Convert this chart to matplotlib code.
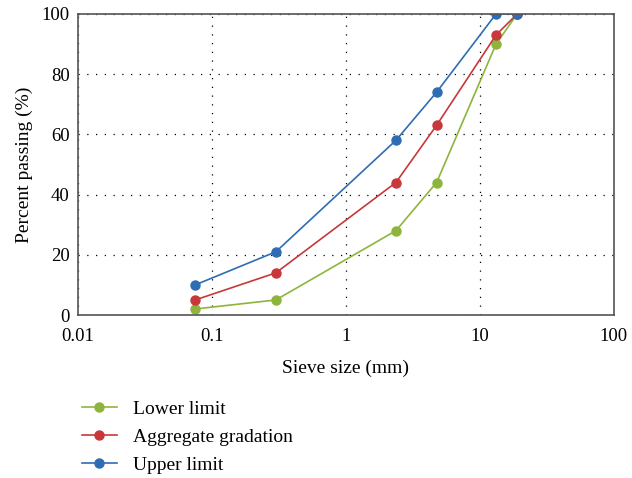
import matplotlib
matplotlib.use("Agg")
import matplotlib.pyplot as plt
from matplotlib.ticker import FixedLocator, NullLocator, FuncFormatter

sieve = [0.075, 0.3, 2.36, 4.75, 13.2, 19]
lower = [2, 5, 28, 44, 90, 100]
aggregate = [5, 14, 44, 63, 93, 100]
upper = [10, 21, 58, 74, 100, 100]

series = [("Lower limit", lower, "#8db53c"),
          ("Aggregate gradation", aggregate, "#c8383a"),
          ("Upper limit", upper, "#2e6db4")]

plt.rcParams["font.family"] = ["Liberation Serif", "DejaVu Serif"]

fig = plt.figure(figsize=(6.32, 4.78), dpi=100)
ax = fig.add_axes([0.1234, 0.341, 0.848, 0.630])

for name, vals, c in series:
    ax.plot(sieve, vals, "-o", color=c, lw=1.2, ms=6.5, label=name)

ax.set_xscale("log")
ax.set_xlim(0.01, 100)
ax.set_ylim(0, 100)
ax.xaxis.set_major_locator(FixedLocator([0.01, 0.1, 1, 10, 100]))
ax.xaxis.set_minor_locator(NullLocator())
ax.xaxis.set_major_formatter(FuncFormatter(lambda v, p: f"{v:g}"))
ax.set_yticks(range(0, 101, 20))
ax.grid(True, color="black", ls=(0, (1, 6)), lw=0.9)
ax.tick_params(length=0, labelsize=13.5)
ax.tick_params(axis="y", pad=6)
ax.tick_params(axis="x", pad=9)
for s in ax.spines.values():
    s.set_color("#555555")
    s.set_linewidth(1.2)
ax.set_xlabel("Sieve size (mm)", fontsize=14, labelpad=11)
ax.set_ylabel("Percent passing (%)", fontsize=14, labelpad=6)

h, l = ax.get_legend_handles_labels()
fig.legend(h, l, loc="upper left", bbox_to_anchor=(0.102, 0.2), frameon=False,
           fontsize=14, handlelength=1.8, labelspacing=0.55, handletextpad=0.8)

fig.savefig("out.png", dpi=100)
